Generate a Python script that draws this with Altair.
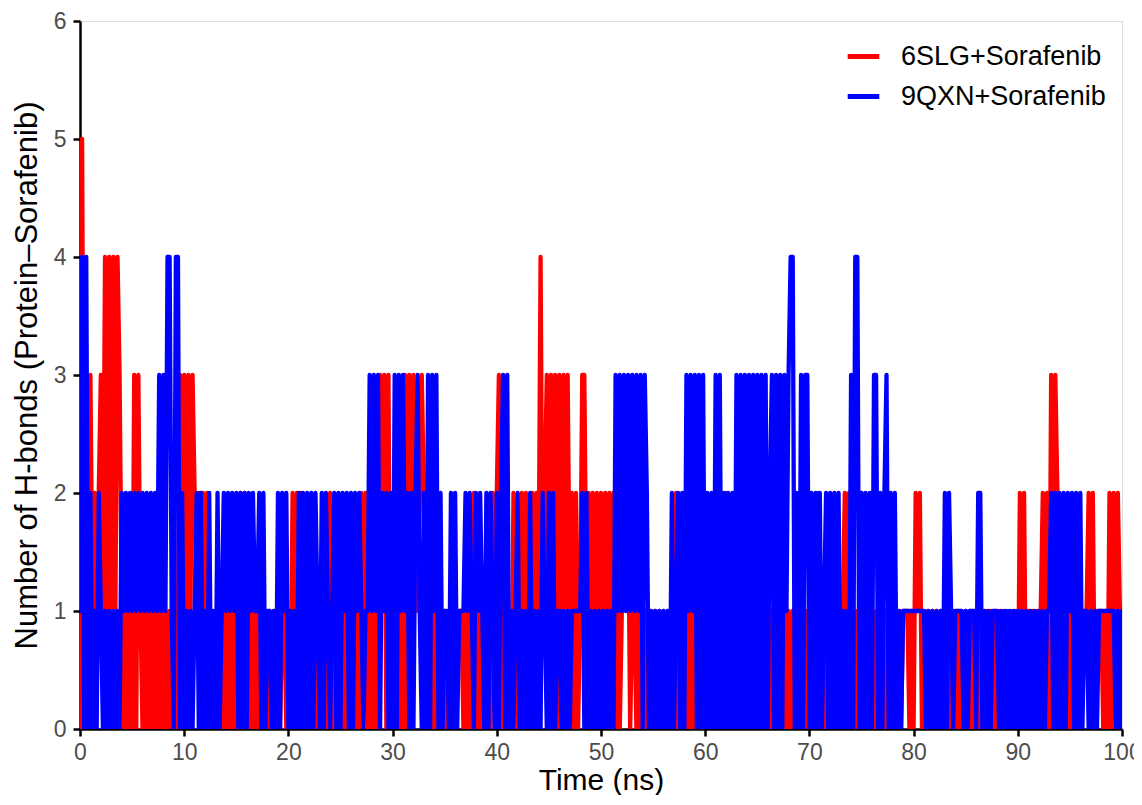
import altair as alt
import pandas as pd

# Time axis: one sample every 0.2 ns, 0 -> 100 ns
STEP_NS = 0.2
SERIES = ["6SLG+Sorafenib", "9QXN+Sorafenib"]
COLORS = ["#FF0000", "#0000FF"]

# Number of H-bonds, one string per 10 ns block (50 samples each)
RED_6SLG = [
    "0513131212" "3141414143" "1010103031" "0101010101" "0101010131",
    "3131321212" "1201010101" "0101010202" "0101010101" "0101010110",
    "1021202101" "0101010100" "2101010101" "0101021201" "0101313030",
    "2010103031" "3212320101" "0101010101" "0111010102" "1010101021",
    "2310101021" "0121201212" "1412313130" "3131312020" "1331212121",
    "2121212010" "1212011010" "1010101010" "1010102010" "1010101020",
    "1010201010" "2010102010" "1020101020" "1010201010" "1010101010",
    "1010201010" "1010101212" "0101020101" "0101010101" "0101011101",
    "0212010101" "0101010101" "0101010101" "0101010101" "0101010101",
    "0212010101" "0121203232" "0101010101" "0111212011" "1010202121",
]
RED_LAST = "0"

BLUE_9QXN = [
    "1404020102" "1010101010" "2121212121" "2121212131" "3144104402",
    "0101012020" "1020102012" "1212120202" "0212112020" "1101020212",
    "0101020202" "0202102021" "0120202120" "2021210113" "1313021202",
    "0303131202" "0231020303" "1302011020" "2011121210" "2121020210",
    "2023030101" "2010102010" "1021020201" "1010101111" "1202010101",
    "0101010313" "1313131313" "0320101010" "1010201202" "0313130303",
    "0202030302" "0202030303" "0303030303" "0230303031" "3440203033",
    "0202020120" "2020201010" "3044020202" "0330202302" "0201011111",
    "1111110101" "0101020210" "1111010111" "0220101011" "1010101010",
    "1010101010" "1010112020" "2020212020" "2011010101" "1111111010",
]
BLUE_LAST = "1"

X_TICKS = list(range(0, 101, 10))
Y_TICKS = list(range(0, 7))


def to_frame(name, blocks, last):
    digits = "".join(blocks) + last
    return pd.DataFrame({
        "time": [round(i * STEP_NS, 1) for i in range(len(digits))],
        "hbonds": [int(d) for d in digits],
        "system": name,
    })


red_df = to_frame(SERIES[0], RED_6SLG, RED_LAST)
blue_df = to_frame(SERIES[1], BLUE_9QXN, BLUE_LAST)

FONT = "Liberation Sans"

color = alt.Color(
    "system:N",
    scale=alt.Scale(domain=SERIES, range=COLORS),
    legend=alt.Legend(
        title=None,
        orient="none",
        legendX=765,
        legendY=17,
        symbolType="stroke",
        symbolStrokeWidth=5,
        symbolSize=1000,
        labelFontSize=27,
        labelColor="black",
        labelFont=FONT,
        labelOffset=19,
        labelLimit=400,
        rowPadding=8,
    ),
)

x = alt.X(
    "time:Q",
    scale=alt.Scale(domain=[0, 100], nice=False, zero=True),
    axis=alt.Axis(
        values=X_TICKS,
        title="Time (ns)",
        titleFontSize=30,
        titleFontWeight="normal",
        titleColor="black",
        titleFont=FONT,
        titleBaseline="alphabetic",
        titleY=60,
        labelFontSize=23,
        labelColor="#4D4D4D",
        labelFont=FONT,
        labelPadding=5,
        tickSize=7,
        tickWidth=2.5,
        tickColor="black",
        domainColor="black",
        domainWidth=2.5,
        grid=False,
        labelFlush=False,
    ),
)

y = alt.Y(
    "hbonds:Q",
    scale=alt.Scale(domain=[0, 6], nice=False),
    axis=alt.Axis(
        values=Y_TICKS,
        title="Number of H-bonds (Protein\u2013Sorafenib)",
        titleFontSize=31,
        titleFontWeight="normal",
        titleColor="black",
        titleFont=FONT,
        titleAngle=-90,
        titleBaseline="middle",
        titleAlign="center",
        titleX=-53,
        titleY=354,
        labelFontSize=23,
        labelColor="#4D4D4D",
        labelFont=FONT,
        labelPadding=7,
        tickSize=7,
        tickWidth=2.5,
        tickColor="black",
        domainColor="black",
        domainWidth=2.5,
        grid=False,
    ),
)

line_kw = dict(strokeWidth=4.3, strokeJoin="round", strokeCap="round", clip=True)

red_line = alt.Chart(red_df).mark_line(**line_kw).encode(
    x=x, y=y, color=color, order="time:Q"
)
blue_line = alt.Chart(blue_df).mark_line(**line_kw).encode(
    x=x, y=y, color=color, order="time:Q"
)

chart = (
    alt.layer(red_line, blue_line)
    .properties(
        width=1042,
        height=708,
        autosize=alt.AutoSizeParams(type="none"),
        padding={"left": 72, "top": 13, "right": 12, "bottom": 66},
    )
    .configure_view(stroke=None)
    .configure(font=FONT)
)

chart.save("out.html", embed_options={"renderer": "svg", "actions": False})
